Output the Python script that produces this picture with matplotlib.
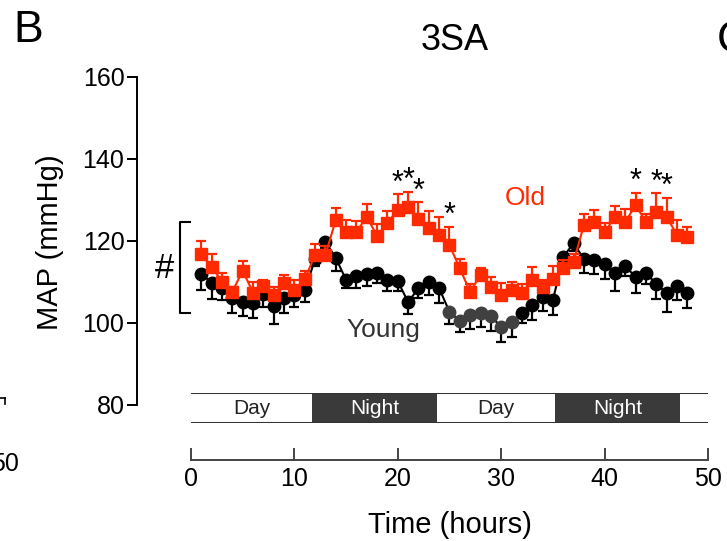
import numpy as np
import matplotlib.pyplot as plt

plt.rcParams['font.family'] = ['Liberation Sans', 'DejaVu Sans']

# hourly mean arterial pressure, 3SA strain
hours = np.arange(1, 49)
old_map = [116.8, 113.7, 110.1, 107.6, 112.8, 107.4, 109.0, 106.8, 109.7, 108.0,
           110.7, 116.6, 116.6, 125.1, 122.2, 122.2, 125.9, 121.2, 124.4, 127.6,
           128.3, 125.4, 123.2, 121.5, 119.0, 113.3, 107.6, 111.7, 108.8, 106.8,
           108.0, 107.3, 110.5, 108.8, 110.7, 113.4, 114.9, 123.9, 124.6, 122.1,
           125.9, 124.6, 128.8, 124.6, 127.1, 125.9, 121.5, 121.0]
old_sem = [3.2, 3.1, 2.2, 1.2, 2.4, 2.7, 1.5, 1.9, 2.0, 2.6,
           2.0, 2.6, 2.2, 3.0, 3.0, 2.6, 3.2, 2.9, 2.9, 3.8,
           3.7, 4.0, 4.0, 4.3, 4.5, 2.3, 2.0, 1.6, 2.4, 3.0,
           2.0, 2.1, 3.1, 1.8, 3.1, 2.0, 2.0, 2.7, 3.0, 2.2,
           2.6, 3.3, 3.0, 2.0, 4.5, 4.7, 3.6, 2.4]
young_map = [112.0, 109.8, 108.5, 106.1, 105.1, 104.9, 107.1, 104.1, 106.1, 106.8,
             108.0, 115.5, 119.8, 115.9, 110.5, 111.5, 112.0, 112.2, 110.5, 110.2,
             105.1, 108.5, 110.0, 108.5, 102.7, 100.5, 102.0, 102.4, 101.7, 99.0,
             100.2, 102.4, 104.4, 106.3, 105.6, 116.1, 119.5, 115.6, 115.3, 114.4,
             112.2, 113.9, 111.2, 112.2, 109.5, 107.3, 109.0, 107.3]
young_sem = [4.0, 4.0, 2.8, 3.7, 3.3, 3.7, 3.3, 4.4, 3.7, 2.8,
             3.0, 1.5, 1.5, 3.3, 2.0, 3.0, 3.0, 2.4, 2.8, 2.5,
             2.8, 2.3, 3.1, 3.7, 3.0, 2.8, 3.5, 3.4, 3.6, 3.7,
             3.5, 2.4, 3.7, 3.3, 3.7, 2.0, 2.0, 3.4, 3.3, 3.7,
             4.5, 2.4, 3.9, 2.8, 3.7, 4.5, 3.4, 3.7]
sig_hours = [20, 21, 22, 25, 43, 45, 46]

# light/dark phases (hours)
phase_edges = [0, 11.7, 23.8, 35.2, 47.3, 50]
phase_names = ['Day', 'Night', 'Day', 'Night', '']

red = '#ff2a00'
old_map = np.array(old_map)
old_sem = np.array(old_sem)
young_map = np.array(young_map)
young_sem = np.array(young_sem)

fig = plt.figure(figsize=(7.27, 5.41), dpi=100)

# main panel
ax = fig.add_axes([137 / 727, 1 - 405 / 541, 571 / 727, 328 / 541])
ax.set_xlim(-5.22, 50)
ax.set_ylim(80, 160)

# young: one-sided (down) error bars, behind the old series
ax.plot(hours, young_map, color='black', lw=1.5, zorder=2)
ax.errorbar(hours, young_map, yerr=[young_sem, np.zeros_like(young_sem)],
            fmt='none', ecolor='black', elinewidth=1.6, capsize=3.5,
            capthick=1.6, zorder=2)
grey = (hours >= 25) & (hours <= 31)
ax.plot(hours[~grey], young_map[~grey], 'o', color='black', ms=9, zorder=3)
ax.plot(hours[grey], young_map[grey], 'o', color='#404040', ms=9, zorder=3)

# old: one-sided (up) error bars
ax.errorbar(hours, old_map, yerr=[np.zeros_like(old_sem), old_sem],
            fmt='s-', color=red, ms=9, lw=1.5, ecolor=red, elinewidth=1.6,
            capsize=3.5, capthick=1.6, zorder=4)

for h in sig_hours:
    i = h - 1
    ax.text(h, old_map[i] + old_sem[i] + 2.6, '*', ha='center', va='center',
            fontsize=22, color='black', zorder=5)

ax.text(32.3, 130.5, 'Old', color=red, fontsize=19, ha='center', va='center')
ax.text(18.6, 98.3, 'Young', color='#333333', fontsize=19, ha='center',
        va='center')

# group effect bracket
ax.plot([-0.1, -1.1, -1.1, -0.1], [124.6, 124.6, 102.4, 102.4], color='black',
        lw=1.5, clip_on=False)
ax.text(-2.55, 113.4, '#', fontsize=25, ha='center', va='center')

for s in ['top', 'right', 'bottom']:
    ax.spines[s].set_visible(False)
ax.spines['left'].set_linewidth(1.4)
ax.set_xticks([])
ax.set_yticks([80, 100, 120, 140, 160])
ax.tick_params(axis='y', direction='out', length=7, width=1.4, labelsize=18,
               pad=2)

# day/night bar
bar = fig.add_axes([191 / 727, 1 - 423 / 541, 517 / 727, 30 / 541])
bar.set_xlim(0, 50)
bar.set_ylim(0, 1)
for k, name in enumerate(phase_names):
    x0, x1 = phase_edges[k], phase_edges[k + 1]
    if name == 'Night':
        bar.axvspan(x0, x1, color='#3a3a3a', lw=0)
        tc = 'white'
    else:
        tc = '#222222'
    if name:
        bar.text((x0 + x1) / 2, 0.5, name, ha='center', va='center',
                 fontsize=15, color=tc)
bar.axhline(1, color='#333333', lw=1.5)
bar.axhline(0, color='#333333', lw=1.5)
bar.axis('off')

# time axis
tax = fig.add_axes([191 / 727, 1 - 460 / 541, 517 / 727, 0.001])
tax.set_xlim(0, 50)
tax.set_xticks([0, 10, 20, 30, 40, 50])
tax.set_yticks([])
for s in ['top', 'right', 'left']:
    tax.spines[s].set_visible(False)
tax.spines['bottom'].set_color('#444444')
tax.spines['bottom'].set_linewidth(1.4)
tax.tick_params(axis='x', direction='in', length=9, width=1.4,
                color='#444444', labelsize=18, pad=5)

# axis labels and title placed in figure pixels
fig.text(450 / 727, 1 - 525 / 541, 'Time (hours)', fontsize=21,
         ha='center', va='center')
fig.text(50 / 727, 1 - 242 / 541, 'MAP (mmHg)', fontsize=21, rotation=90,
         ha='center', va='center')
fig.text(455 / 727, 1 - 40 / 541, '3SA', fontsize=26, ha='center',
         va='center')

# panel letters and fragments of neighbouring panels
fig.text(28 / 727, 1 - 30 / 541, 'B', fontsize=32, ha='center', va='center')
fig.text(733 / 727, 1 - 40 / 541, 'C', fontsize=32, ha='center', va='center')
fig.text(19 / 727, 1 - 452 / 541, '50', fontsize=18, ha='right', va='top')
fig.add_artist(plt.Line2D([0, 5 / 727], [1 - 398 / 541, 1 - 398 / 541],
                          color='black', lw=1.2))
fig.add_artist(plt.Line2D([5 / 727, 5 / 727], [1 - 398 / 541, 1 - 404 / 541],
                          color='black', lw=1.2))

fig.savefig('out.png', dpi=100)
